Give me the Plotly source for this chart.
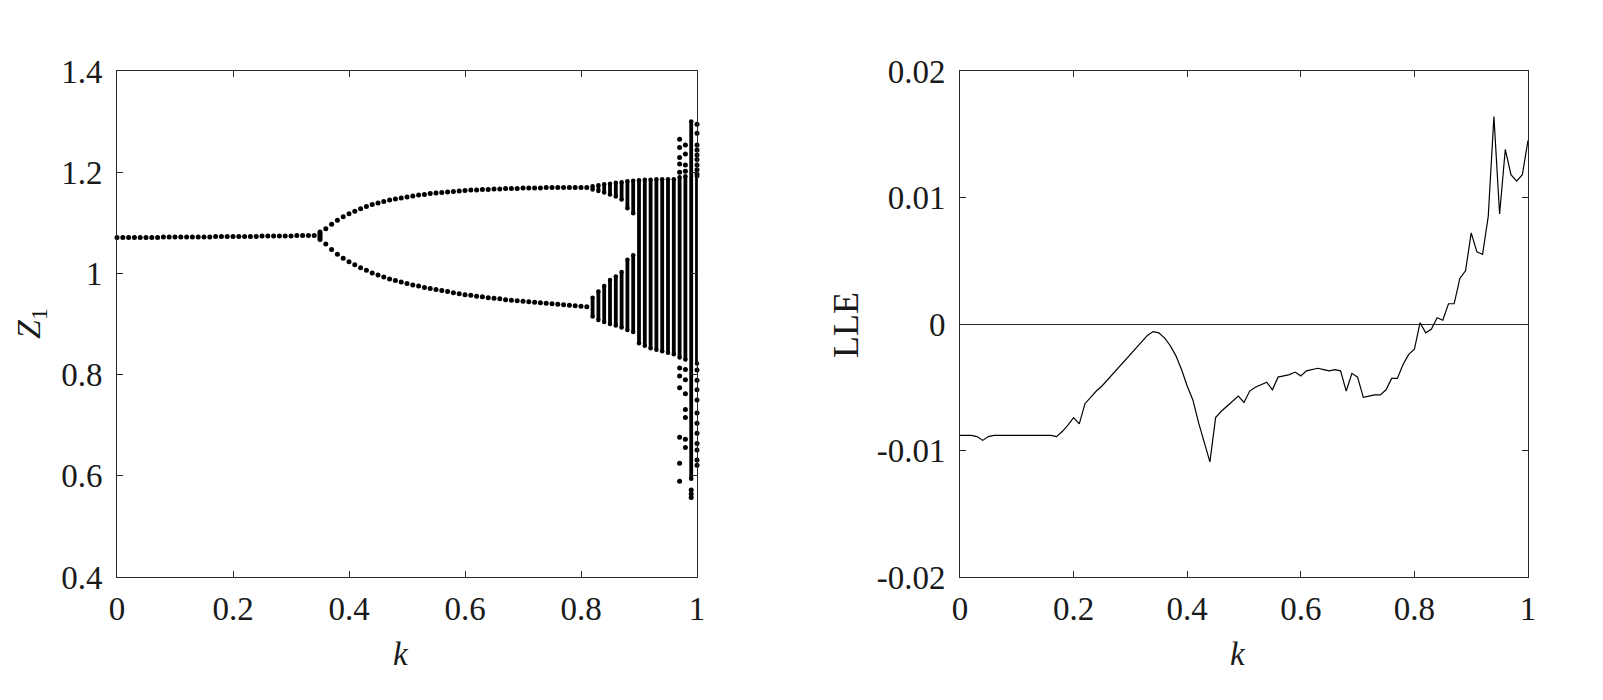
import plotly.graph_objects as go

# ---------------- Data ----------------
# Left panel: bifurcation diagram of Z1 versus k
p1_k = [0.00, 0.01, 0.02, 0.03, 0.04, 0.05, 0.06, 0.07, 0.08, 0.09, 0.10, 0.11,
        0.12, 0.13, 0.14, 0.15, 0.16, 0.17, 0.18, 0.19, 0.20, 0.21, 0.22, 0.23,
        0.24, 0.25, 0.26, 0.27, 0.28, 0.29, 0.30, 0.31, 0.32, 0.33, 0.34]
p1_z = [1.071, 1.071, 1.071, 1.071, 1.071, 1.071, 1.071, 1.071, 1.072, 1.072,
        1.072, 1.072, 1.072, 1.072, 1.072, 1.072, 1.072, 1.073, 1.073, 1.073,
        1.073, 1.073, 1.073, 1.073, 1.073, 1.074, 1.074, 1.074, 1.074, 1.074,
        1.074, 1.075, 1.075, 1.075, 1.075]

bif_k = [0.35, 0.35, 0.35, 0.35, 0.35]
bif_z = [1.067, 1.071, 1.075, 1.079, 1.082]

p2_k = [0.36, 0.37, 0.38, 0.39, 0.40, 0.41, 0.42, 0.43, 0.44, 0.45, 0.46, 0.47,
        0.48, 0.49, 0.50, 0.51, 0.52, 0.53, 0.54, 0.55, 0.56, 0.57, 0.58, 0.59,
        0.60, 0.61, 0.62, 0.63, 0.64, 0.65, 0.66, 0.67, 0.68, 0.69, 0.70, 0.71,
        0.72, 0.73, 0.74, 0.75, 0.76, 0.77, 0.78, 0.79, 0.80, 0.81]
p2_upper = [1.088, 1.097, 1.105, 1.112, 1.118, 1.123, 1.128, 1.132, 1.136, 1.139,
            1.142, 1.145, 1.147, 1.149, 1.151, 1.153, 1.155, 1.156, 1.158, 1.159,
            1.160, 1.161, 1.162, 1.163, 1.164, 1.165, 1.165, 1.166, 1.166, 1.167,
            1.167, 1.168, 1.168, 1.168, 1.169, 1.169, 1.169, 1.169, 1.170, 1.170,
            1.170, 1.170, 1.170, 1.170, 1.170, 1.170]
p2_lower = [1.058, 1.047, 1.038, 1.030, 1.023, 1.017, 1.011, 1.006, 1.001, 0.997,
            0.993, 0.989, 0.986, 0.983, 0.980, 0.977, 0.975, 0.972, 0.970, 0.968,
            0.966, 0.964, 0.962, 0.960, 0.958, 0.957, 0.955, 0.954, 0.952, 0.951,
            0.950, 0.948, 0.947, 0.946, 0.945, 0.944, 0.943, 0.942, 0.941, 0.940,
            0.939, 0.938, 0.937, 0.936, 0.935, 0.934]

# dense chaotic bands (k, lowest Z, highest Z)
band_k = [0.82, 0.82, 0.83, 0.83, 0.84, 0.84, 0.85, 0.85, 0.86, 0.86, 0.87, 0.87,
          0.88, 0.88, 0.89, 0.89, 0.90, 0.91, 0.92, 0.93, 0.94, 0.95, 0.96, 0.97,
          0.98, 0.99, 1.00]
band_lo = [0.915, 1.166, 0.908, 1.163, 0.904, 1.160, 0.900, 1.156, 0.897, 1.152,
           0.893, 1.146, 0.888, 1.129, 0.884, 1.119, 0.862, 0.857, 0.852, 0.849,
           0.846, 0.843, 0.840, 0.834, 0.830, 0.594, 0.822]
band_hi = [0.952, 1.172, 0.964, 1.174, 0.975, 1.176, 0.987, 1.177, 0.994, 1.179,
           1.003, 1.180, 1.027, 1.182, 1.036, 1.183, 1.184, 1.185, 1.185, 1.186,
           1.186, 1.186, 1.186, 1.190, 1.192, 1.300, 1.192]

# isolated points outside the dense bands
iso_k = [0.97] * 11 + [0.98] * 11 + [0.99] * 3 + [1.00] * 20
iso_z = [1.265, 1.249, 1.229, 1.216, 1.200, 0.813, 0.797, 0.774, 0.676, 0.625, 0.589,
         1.254, 1.236, 1.214, 1.202, 0.810, 0.790, 0.762, 0.731, 0.715, 0.672, 0.656,
         0.572, 0.564, 0.557,
         1.295, 1.277, 1.254, 1.244, 1.234, 1.225, 1.214, 1.205, 1.196, 0.809,
         0.789, 0.770, 0.750, 0.724, 0.704, 0.684, 0.664, 0.651, 0.631, 0.621]

# Right panel: largest Lyapunov exponent versus k
lle_k = [i / 100 for i in range(101)]
lle = [-0.0088, -0.0088, -0.0088, -0.0089, -0.0092, -0.0089, -0.0088, -0.0088,
       -0.0088, -0.0088, -0.0088, -0.0088, -0.0088, -0.0088, -0.0088, -0.0088,
       -0.0088, -0.0089, -0.0085, -0.0080, -0.0074, -0.0079, -0.0063, -0.0058,
       -0.0053, -0.0049, -0.0044, -0.0039, -0.0034, -0.0029, -0.0024, -0.0019,
       -0.0014, -0.0009, -0.0006, -0.0007, -0.0011, -0.0017, -0.0025, -0.0036,
       -0.0049, -0.0060, -0.0078, -0.0094, -0.0109, -0.0074, -0.0069, -0.0065,
       -0.0061, -0.0057, -0.0062, -0.0053, -0.0050, -0.0048, -0.0046, -0.0052,
       -0.0042, -0.0041, -0.0040, -0.0038, -0.0041, -0.0037, -0.0036, -0.0035,
       -0.0036, -0.0037, -0.0036, -0.0037, -0.0053, -0.0039, -0.0042, -0.0058,
       -0.0057, -0.0056, -0.0056, -0.0052, -0.0043, -0.0043, -0.0032, -0.0024,
       -0.0020, 0.0001, -0.0007, -0.0004, 0.0005, 0.0003, 0.0016, 0.0016,
       0.0036, 0.0042, 0.0072, 0.0057, 0.0055, 0.0085, 0.0164, 0.0087,
       0.0138, 0.0118, 0.0113, 0.0118, 0.0145]

x_ticks = [0, 0.2, 0.4, 0.6, 0.8, 1]
x_ticktext = ["0", "0.2", "0.4", "0.6", "0.8", "1"]
z_ticks = [0.4, 0.6, 0.8, 1.0, 1.2, 1.4]
z_ticktext = ["0.4", "0.6", "0.8", "1", "1.2", "1.4"]
lle_ticks = [-0.02, -0.01, 0, 0.01, 0.02]
lle_ticktext = ["-0.02", "-0.01", "0", "0.01", "0.02"]

# ---------------- Figure ----------------
W, H = 1603, 700
OFF = 8  # page body margin
FONT = "Times New Roman, Liberation Serif, serif"
INK = "#1a1a1a"
AX = "#262626"
DOT = 5
TICK_FS = 33

fig = go.Figure()

branch_k = p1_k + bif_k + p2_k + p2_k
branch_z = p1_z + bif_z + p2_upper + p2_lower
fig.add_trace(go.Scatter(x=branch_k, y=branch_z, mode="markers",
                         marker=dict(size=DOT, color="black", line=dict(width=0)),
                         cliponaxis=False, xaxis="x", yaxis="y", showlegend=False))

# dense bands drawn as vertical error bars spanning low..high
fig.add_trace(go.Scatter(x=band_k, y=band_hi, mode="markers",
                         marker=dict(size=DOT - 0.5, color="black", line=dict(width=0)),
                         error_y=dict(type="data", symmetric=False,
                                      array=[0] * len(band_hi),
                                      arrayminus=[h - l for h, l in zip(band_hi, band_lo)],
                                      color="black", thickness=3.8, width=0),
                         cliponaxis=False, xaxis="x", yaxis="y", showlegend=False))
fig.add_trace(go.Scatter(x=band_k, y=band_lo, mode="markers",
                         marker=dict(size=DOT - 0.5, color="black", line=dict(width=0)),
                         cliponaxis=False, xaxis="x", yaxis="y", showlegend=False))
fig.add_trace(go.Scatter(x=iso_k, y=iso_z, mode="markers",
                         marker=dict(size=DOT, color="black", line=dict(width=0)),
                         cliponaxis=False, xaxis="x", yaxis="y", showlegend=False))

fig.add_trace(go.Scatter(x=lle_k, y=lle, mode="lines",
                         line=dict(color="black", width=1.2),
                         xaxis="x2", yaxis="y2", showlegend=False))

# plot-area geometry (pixels in the screenshot, corrected for page margin)
L1, R1 = 117 - OFF, 697 - OFF
L2, R2 = 960 - OFF, 1528 - OFF
T, B = 71 - OFF, 577 - OFF

axis_common = dict(showline=True, linecolor=AX, linewidth=1, mirror="ticks",
                   ticks="inside", ticklen=6, tickwidth=1, tickcolor=AX,
                   showgrid=False, zeroline=False, automargin=False,
                   tickfont=dict(family=FONT, size=TICK_FS, color=INK), tickmode="array")

fig.update_layout(
    width=W, height=H,
    margin=dict(l=0, r=0, t=0, b=0),
    paper_bgcolor="white", plot_bgcolor="white",
    xaxis=dict(domain=[L1 / W, R1 / W], range=[0, 1], anchor="y",
               tickvals=x_ticks, ticktext=x_ticktext, ticklabelstandoff=2, **axis_common),
    yaxis=dict(domain=[1 - B / H, 1 - T / H], range=[0.4, 1.4], anchor="x",
               tickvals=z_ticks, ticktext=z_ticktext, ticklabelstandoff=7, **axis_common),
    xaxis2=dict(domain=[L2 / W, R2 / W], range=[0, 1], anchor="y2",
                tickvals=x_ticks, ticktext=x_ticktext, ticklabelstandoff=2, **axis_common),
    yaxis2=dict(domain=[1 - B / H, 1 - T / H], range=[-0.02, 0.02], anchor="x2",
                tickvals=lle_ticks, ticktext=lle_ticktext, ticklabelstandoff=7,
                **{k: v for k, v in axis_common.items() if k != "zeroline"},
                zeroline=True, zerolinecolor=AX, zerolinewidth=1.3),
)

annots = [
    dict(text="<i>k</i>", x=((L1 + R1) / 2 - 6) / W, y=1 - (654 - OFF) / H, font_size=33),
    dict(text="<i>k</i>", x=((L2 + R2) / 2 - 6) / W, y=1 - (654 - OFF) / H, font_size=33),
    dict(text="<i>Z</i><sub>1</sub>", x=(31 - OFF) / W, y=1 - (324 - OFF) / H,
         font_size=34, textangle=-90),
    dict(text="LLE", x=(846 - OFF) / W, y=1 - (325 - OFF) / H, font_size=36, textangle=-90),
]
for a in annots:
    fs = a.pop("font_size")
    fig.add_annotation(xref="paper", yref="paper", showarrow=False,
                       xanchor="center", yanchor="middle",
                       font=dict(family=FONT, size=fs, color=INK), **a)

fig.write_html("out.html")
